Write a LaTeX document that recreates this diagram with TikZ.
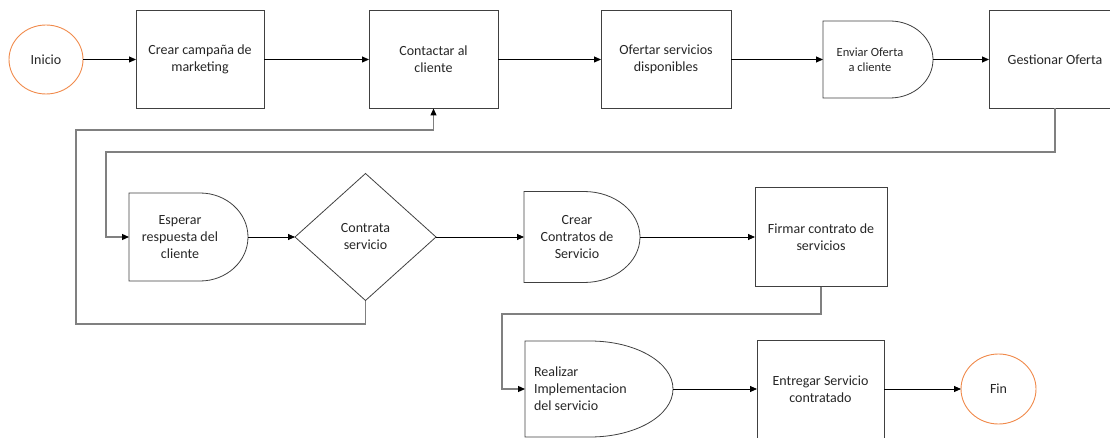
\documentclass[tikz,border=0pt]{standalone}
\usepackage{fontspec}
\setmainfont{Carlito}
\usepackage{xcolor}
\usetikzlibrary{arrows.meta,positioning,shapes.geometric}

\definecolor{boxline}{HTML}{404040}
\definecolor{loopline}{HTML}{808080}
\definecolor{termorange}{HTML}{F08A4B}

\begin{document}
\begin{tikzpicture}[
  x=1pt,y=-1pt,
  font=\fontsize{14}{17}\selectfont,
  every node/.style={text=black!85,outer sep=0pt},
  proc/.style={draw=boxline,line width=0.8pt,align=center,minimum width=129pt,minimum height=98pt,inner sep=2pt},
  term/.style={draw=termorange,line width=0.9pt,ellipse,minimum width=74pt,minimum height=69pt,inner sep=1pt},
  delay/.style={inner sep=0pt},
  decision/.style={draw=boxline,line width=0.8pt,diamond,align=center,minimum width=141pt,minimum height=127pt,inner sep=1pt},
  border/.style={draw=boxline,line width=0.8pt},
  arrow/.style={-{Triangle[length=7pt,width=6pt]},line width=0.8pt},
  back/.style={-{Triangle[length=7pt,width=6pt,color=black]},draw=loopline,line width=1.2pt}
]
\useasboundingbox (0,0) rectangle (1110,438);

% first row
\node[term] (inicio) at (46,59.5) {Inicio};
\node[proc,minimum width=128pt,right=53pt of inicio] (campana) {Crear campaña de\\marketing};
\node[proc,right=105pt of campana] (contactar) {Contactar al\\cliente};
\node[proc,minimum width=130pt,right=103pt of contactar] (ofertar) {Ofertar servicios\\disponibles};
\node[delay,minimum width=110pt,minimum height=77pt,right=92pt of ofertar,
  label={[name=enviar-txt,align=center,xshift=-8pt,font=\fontsize{12.5}{15}\selectfont]center:Enviar Oferta\\a cliente}] (enviar) {};
\node[proc,minimum width=132pt,right=56pt of enviar] (gestionar) {Gestionar Oferta};

% second row
\node[delay,minimum width=119pt,minimum height=88pt,
  label={[name=esperar-txt,align=center,xshift=-8.5pt]center:Esperar\\respuesta del\\cliente}] (esperar) at (188.5,237) {};
\node[decision,right=47pt of esperar] (contrata) {Contrata\\servicio};
\node[delay,minimum width=116pt,minimum height=91pt,right=88pt of contrata,
  label={[name=crearc-txt,align=center,xshift=-5pt]center:Crear\\Contratos de\\Servicio}] (crearc) {};
\node[proc,minimum width=132pt,minimum height=99pt,right=115pt of crearc] (firmar) {Firmar contrato de\\servicios};

% third row
\node[delay,minimum width=148pt,minimum height=96pt,
  label={[name=realizar-txt,align=left,anchor=west,inner sep=0pt,xshift=9pt]west:Realizar\\Implementacion\\del servicio}] (realizar) at (599,389) {};
\node[proc,minimum width=127pt,right=84pt of realizar] (entregar) {Entregar Servicio\\contratado};
\node[term,minimum width=75pt,minimum height=70pt,right=77pt of entregar] (fin) {Fin};

% delay outlines
\draw[border] (enviar.north west) -- ++(67,0) arc[start angle=90,end angle=-90,x radius=43pt,y radius=38.5pt] -- (enviar.south west) -- cycle;
\draw[border] (esperar.north west) -- ++(71,0) arc[start angle=90,end angle=-90,x radius=48pt,y radius=44pt] -- (esperar.south west) -- cycle;
\draw[border] (crearc.north west) -- ++(60,0) arc[start angle=90,end angle=-90,x radius=56pt,y radius=45.5pt] -- (crearc.south west) -- cycle;
\draw[border] (realizar.north west) -- ++(65,0) arc[start angle=90,end angle=-90,x radius=83pt,y radius=48pt] -- (realizar.south west) -- cycle;

% straight flow
\draw[arrow] (inicio) -- (campana);
\draw[arrow] (campana) -- (contactar);
\draw[arrow] (contactar) -- (ofertar);
\draw[arrow] (ofertar.east) -- (enviar.west);
\draw[arrow] (enviar.east) -- (gestionar.west);
\draw[arrow] (esperar.east) -- (contrata.west);
\draw[arrow] (contrata.east) -- (crearc.west);
\draw[arrow] (crearc.east) -- (firmar.west);
\draw[arrow] (realizar.east) -- (entregar.west);
\draw[arrow] (entregar) -- (fin);

% returns between rows
\draw[back] (gestionar.south) |- (106,152) |- (esperar.west);
\draw[back] (contrata.south) |- (76,324) -- (76,130) -| (contactar.south);
\draw[back] (firmar.south) |- (502,314) |- (realizar.west);
\end{tikzpicture}
\end{document}
